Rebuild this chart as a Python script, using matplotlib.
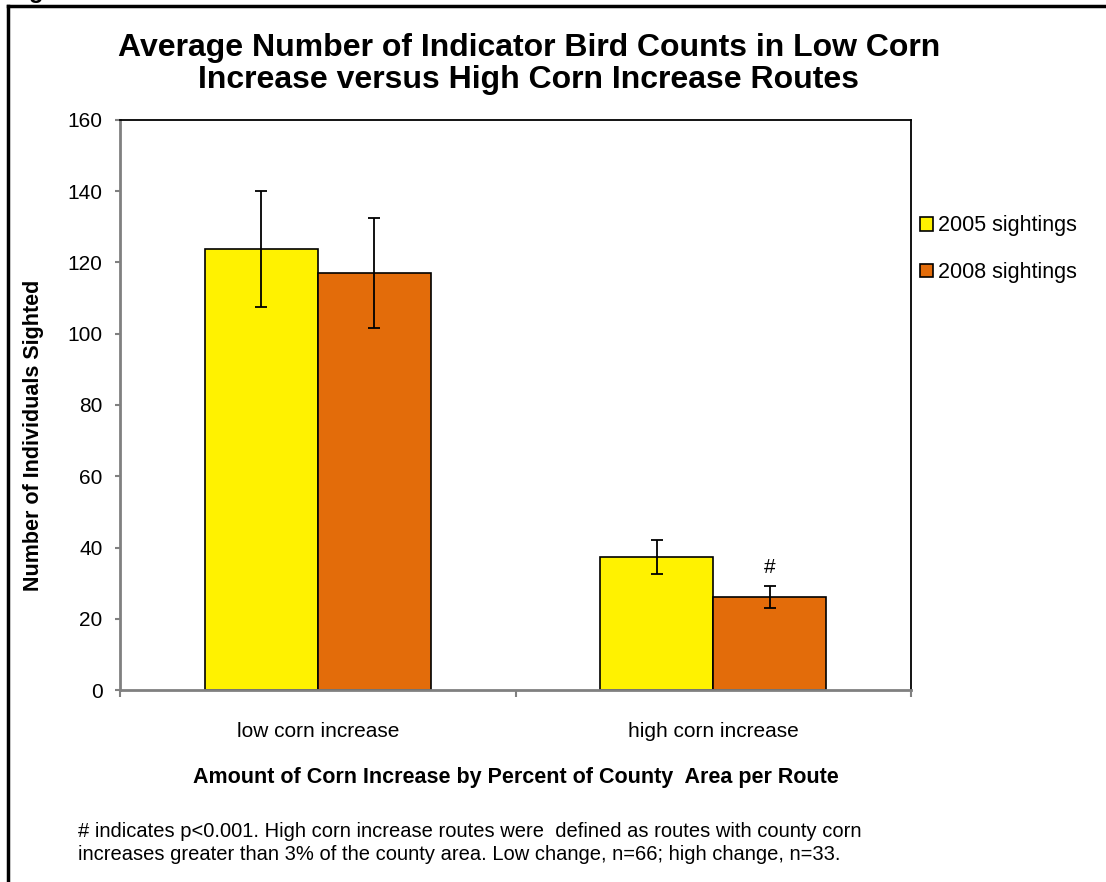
import matplotlib
matplotlib.use("Agg")
from matplotlib import pyplot as plt
from matplotlib.lines import Line2D
import numpy as np

plt.rcParams["font.family"] = ["Liberation Sans", "DejaVu Sans"]

categories = ["low corn increase", "high corn increase"]
series = ["2005 sightings", "2008 sightings"]
counts_2005 = [123.8, 37.3]
counts_2008 = [117.0, 26.0]
err_2005 = [16.2, 4.7]
err_2008 = [15.5, 3.1]
yticks = [0, 20, 40, 60, 80, 100, 120, 140, 160]
colors = ["#FFF200", "#E36C0A"]

fig = plt.figure(figsize=(11.06, 8.82), dpi=100)
ax = fig.add_axes([120 / 1106, 1 - 690 / 882, (911 - 120) / 1106, 570 / 882])

x = np.arange(len(categories))
w = 0.2857
ekw = dict(ecolor="black", elinewidth=1.3, capsize=4, capthick=1.3)
ax.bar(x - w / 2, counts_2005, w, color=colors[0], edgecolor="black", linewidth=1.2,
       yerr=err_2005, error_kw=ekw)
ax.bar(x + w / 2, counts_2008, w, color=colors[1], edgecolor="black", linewidth=1.2,
       yerr=err_2008, error_kw=ekw)

# significance mark above the high-change 2008 bar
ax.text(x[1] + w / 2, counts_2008[1] + err_2008[1] + 2.6, "#", ha="center", va="bottom", fontsize=15)

ax.set_xlim(-0.5, 1.5)
ax.set_ylim(0, 160)
ax.set_yticks(yticks)
ax.set_yticklabels([str(t) for t in yticks], fontsize=15)
ax.set_xticks([-0.5, 0.5, 1.5])
ax.set_xticklabels([])
ax.xaxis.set_minor_locator(matplotlib.ticker.FixedLocator(x))
ax.set_xticklabels(categories, minor=True, fontsize=15)
ax.tick_params(axis="x", which="minor", length=0, pad=23)
ax.tick_params(axis="x", which="major", length=5, color="#808080", width=1.5)
ax.tick_params(axis="y", length=3.6, color="#808080", width=1.5, pad=9)

for side in ["left", "bottom"]:
    ax.spines[side].set_color("#808080")
    ax.spines[side].set_linewidth(2)
for side in ["top", "right"]:
    ax.spines[side].set_color("black")
    ax.spines[side].set_linewidth(1.3)

ax.set_ylabel("Number of Individuals Sighted", fontsize=15.5, fontweight="bold")
ax.yaxis.set_label_coords((44 - 120) / 791, (690 - 435) / 570)
ax.set_xlabel("Amount of Corn Increase by Percent of County  Area per Route",
              fontsize=15.5, fontweight="bold", labelpad=19)

handles = [plt.Rectangle((0, 0), 1, 1, facecolor=c, edgecolor="black", linewidth=1.2) for c in colors]
fig.legend(handles, series, loc="upper left", bbox_to_anchor=(901 / 1106, 1 - 196 / 882),
           frameon=False, fontsize=15.5, handlelength=0.6, handleheight=0.6,
           handletextpad=0.2, labelspacing=1.2)

fig.text(529 / 1106, 1 - 64 / 882,
         "Average Number of Indicator Bird Counts in Low Corn\nIncrease versus High Corn Increase Routes",
         ha="center", va="center", fontsize=23, fontweight="bold", linespacing=1.05)

fig.text(78 / 1106, 1 - 843 / 882,
         "# indicates p<0.001. High corn increase routes were  defined as routes with county corn\n"
         "increases greater than 3% of the county area. Low change, n=66; high change, n=33.",
         ha="left", va="center", fontsize=14.5, linespacing=1.25)

# outer frame: top edge and left edge
fig.add_artist(Line2D([8 / 1106, 8 / 1106], [0, 1 - 6 / 882], color="black", lw=2.5,
                      transform=fig.transFigure))
fig.add_artist(Line2D([8 / 1106, 1], [1 - 6 / 882, 1 - 6 / 882], color="black", lw=2.5,
                      transform=fig.transFigure))
fig.text(8 / 1106, 1 + 9 / 882, "Figure", fontsize=17, fontweight="bold", va="center")

fig.savefig("out.png", dpi=100)
